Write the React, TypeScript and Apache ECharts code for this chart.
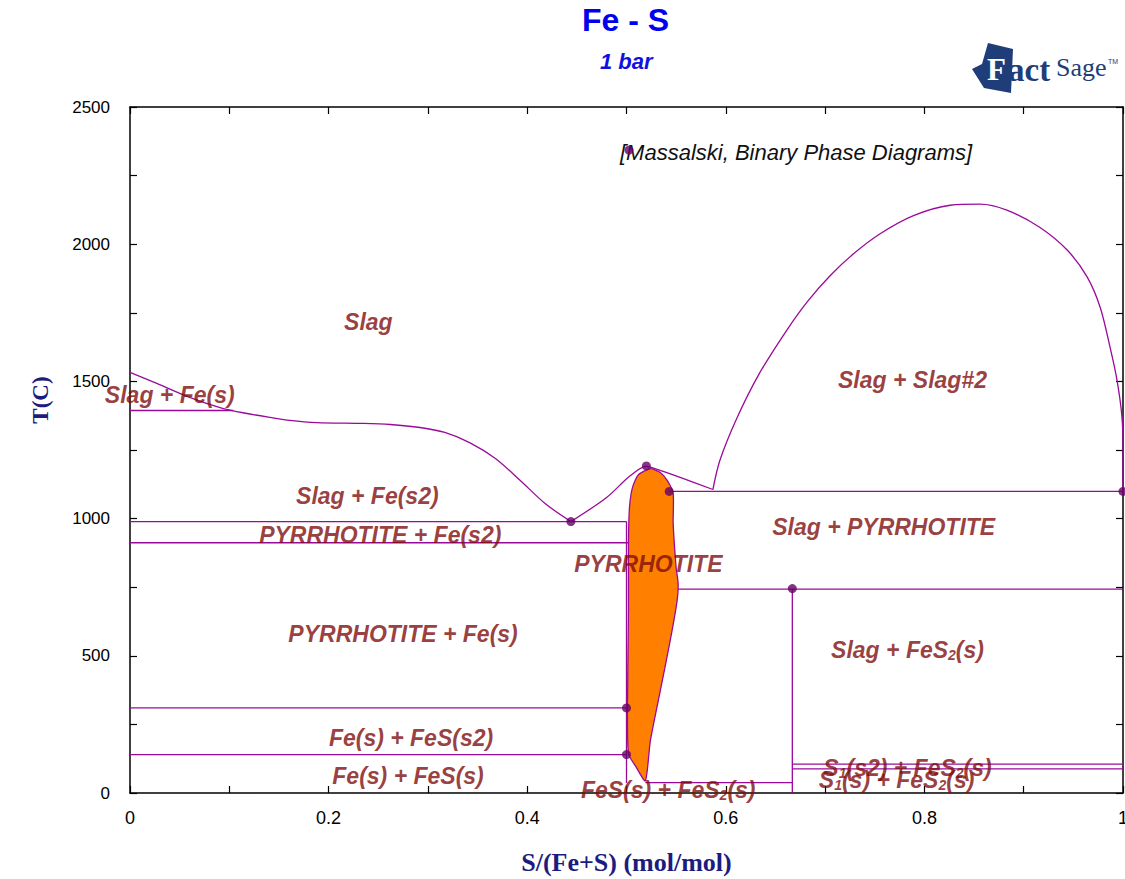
import React, { useEffect, useRef } from "react";
import * as echarts from "echarts";

// ---- data (x = S/(Fe+S) mol/mol, T in °C) ----
const liquidusFe = [
  [0, 1533], [0.027, 1493], [0.06, 1442], [0.094, 1401], [0.118, 1383], [0.141, 1369],
  [0.161, 1358], [0.188, 1350], [0.235, 1347], [0.262, 1343], [0.292, 1332], [0.317, 1314],
  [0.342, 1277], [0.368, 1219], [0.393, 1139], [0.418, 1055], [0.444, 989],
];
const liquidusFeS = [
  [0.444, 989], [0.48, 1077], [0.504, 1157], [0.52, 1190], [0.531, 1179], [0.554, 1150], [0.587, 1106],
];
const miscibilityGap = [
  [0.587, 1106], [0.594, 1212], [0.611, 1365], [0.634, 1530], [0.662, 1690], [0.682, 1790],
  [0.705, 1885], [0.728, 1963], [0.755, 2037], [0.789, 2104], [0.826, 2142], [0.856, 2146],
  [0.883, 2124], [0.916, 2062], [0.944, 1978], [0.964, 1880], [0.977, 1770], [0.987, 1624],
  [0.994, 1504], [0.999, 1369], [1, 1248], [1, 1099],
];
const pyrrhotite = [
  [0.524, 1182], [0.534, 1168], [0.541, 1139], [0.547, 1091], [0.547, 982], [0.55, 821],
  [0.552, 763], [0.551, 701], [0.544, 555], [0.534, 372], [0.524, 190], [0.519, 44],
  [0.509, 99], [0.502, 142], [0.501, 310], [0.502, 675], [0.502, 920], [0.503, 1040],
  [0.506, 1113], [0.512, 1160],
];
const deltaFeLine = [[0, 1394], [0.104, 1394]];
const eutecticLine = [[0, 989], [0.5, 989]];
const gammaAlphaLine = [[0, 912], [0.502, 912]];
const fes315Line = [[0, 310], [0.5, 310]];
const fes138Line = [[0, 140], [0.5, 140]];
const fesLeftEdge = [[0.5, 989], [0.5, 36]];
const monotecticLine = [[0.543, 1099], [1, 1099]];
const fes2DecompLine = [[0.552, 743], [1, 743]];
const fes2Vertical = [[0.667, 743], [0.667, 0]];
const lowPyrrhotiteLine = [[0.519, 38], [0.667, 38]];
const sulfurMeltLine = [[0.667, 105], [1, 105]];
const sulfurTransLine = [[0.667, 88], [1, 88]];
const invariantPoints = [
  [0.444, 989], [0.52, 1192], [0.543, 1099], [0.5, 310], [0.5, 140],
  [0.667, 745], [1, 1099], [0.5025, 2343],
];
const phaseLabels = [
  { text: "Slag", x: 0.24, t: 1716 },
  { text: "Slag + Fe(s)", x: 0.04, t: 1450 },
  { text: "Slag + Slag#2", x: 0.788, t: 1505 },
  { text: "Slag + Fe(s2)", x: 0.239, t: 1082 },
  { text: "PYRRHOTITE + Fe(s2)", x: 0.252, t: 940 },
  { text: "Slag + PYRRHOTITE", x: 0.759, t: 969 },
  { text: "PYRRHOTITE", x: 0.522, t: 835 },
  { text: "PYRRHOTITE + Fe(s)", x: 0.275, t: 579 },
  { text: "Slag + FeS{sub|2}(s)", x: 0.783, t: 521 },
  { text: "Fe(s) + FeS(s2)", x: 0.283, t: 200 },
  { text: "Fe(s) + FeS(s)", x: 0.28, t: 62 },
  { text: "FeS(s) + FeS{sub|2}(s)", x: 0.542, t: 11 },
  { text: "S{sub|1}(s2) + FeS{sub|2}(s)", x: 0.783, t: 91 },
  { text: "S{sub|1}(s) + FeS{sub|2}(s)", x: 0.772, t: 47 },
];
const xTickLabels = ["0", "0.2", "0.4", "0.6", "0.8", "1"];
const yTickLabels = ["0", "500", "1000", "1500", "2000", "2500"];

const LINE = "#9a0a9a";
const MARK = "#660066";
const LABEL = "#800d0d";
const LOGO = "#1f3d78";

export default function App() {
  const ref = useRef<HTMLDivElement>(null);
  useEffect(() => {
    if (!ref.current) return;
    const chart = echarts.init(ref.current, null, { renderer: "svg" });
    const curves = [liquidusFe, liquidusFeS, miscibilityGap];
    const straight = [
      deltaFeLine, eutecticLine, gammaAlphaLine, fes315Line, fes138Line, fesLeftEdge,
      monotecticLine, fes2DecompLine, fes2Vertical, lowPyrrhotiteLine, sulfurMeltLine, sulfurTransLine,
    ];
    const mk = (d: number[][], smooth: number) => ({
      type: "line",
      data: d,
      showSymbol: false,
      symbol: "none",
      smooth,
      lineStyle: { color: LINE, width: 1.3 },
      z: 3,
      clip: false,
    });
    const lineSeries = [...curves.map((d) => mk(d, 0.3)), ...straight.map((d) => mk(d, 0))];
    const axisCommon = () => ({
      axisLine: { show: true, onZero: false, lineStyle: { color: "#000", width: 1.5 } },
      axisTick: { show: true, inside: true, length: 7, lineStyle: { color: "#000", width: 1.2 } },
      splitLine: { show: false },
    });
    const xFmt = (v: number) => {
      const k = Math.round(v * 10);
      return k % 2 === 0 ? xTickLabels[k / 2] : "";
    };
    const yFmt = (v: number) => {
      const k = Math.round(v / 250);
      return k % 2 === 0 ? yTickLabels[k / 2] : "";
    };
    chart.setOption({
      animation: false,
      backgroundColor: "#fff",
      grid: { left: 130, right: 2, top: 107, bottom: 86, outerBoundsMode: "none", containLabel: false },
      xAxis: [
        {
          type: "value", min: 0, max: 1, interval: 0.1, position: "bottom",
          ...axisCommon(),
          axisLabel: { formatter: xFmt, color: "#000", fontSize: 18, fontFamily: "Liberation Sans, Arial", margin: 16 },
          name: "S/(Fe+S) (mol/mol)",
          nameLocation: "middle",
          nameGap: 56,
          nameTextStyle: { color: "#1c1c80", fontSize: 26, fontWeight: "bold", fontFamily: "Liberation Serif, Times New Roman, serif" },
        },
        {
          type: "value", min: 0, max: 1, interval: 0.1, position: "top",
          ...axisCommon(),
          axisLabel: { show: false },
        },
      ],
      yAxis: [
        {
          type: "value", min: 0, max: 2500, interval: 250, position: "left",
          ...axisCommon(),
          axisLabel: { formatter: yFmt, color: "#000", fontSize: 17, fontFamily: "Liberation Sans, Arial", margin: 20 },
        },
        {
          type: "value", min: 0, max: 2500, interval: 250, position: "right",
          ...axisCommon(),
          axisLabel: { show: false },
        },
      ],
      graphic: [
        { type: "text", left: 582, top: 4, style: { text: "Fe - S", fill: "#0000ee", font: "bold 32px 'Liberation Sans', Arial" } },
        { type: "text", left: 600, top: 50, style: { text: "1 bar", fill: "#1010e0", font: "italic bold 22px 'Liberation Sans', Arial" } },
        { type: "text", left: 620, top: 141, style: { text: "[Massalski, Binary Phase Diagrams]", fill: "#111", font: "italic 22px 'Liberation Sans', Arial" } },
        {
          type: "text", x: 40, y: 400, rotation: Math.PI / 2,
          style: { text: "T(C)", fill: "#1c1c80", font: "bold 23px 'Liberation Serif', serif", align: "center", verticalAlign: "middle" },
        },
        {
          type: "polygon",
          shape: { points: [[988, 43], [1013, 49], [1011, 93], [984, 88], [972, 69], [982, 64]] },
          style: { fill: LOGO },
        },
        { type: "text", left: 987, top: 54, style: { text: "F", fill: "#fff", font: "bold 31px 'Liberation Serif', serif" } },
        { type: "text", left: 1008, top: 53, style: { text: "act", fill: LOGO, font: "bold 33px 'Liberation Serif', serif" } },
        { type: "text", left: 1056, top: 54, style: { text: "Sage", fill: LOGO, font: "26px 'Liberation Serif', serif" } },
        { type: "text", left: 1108, top: 58, style: { text: "TM", fill: LOGO, font: "7px 'Liberation Sans', Arial" } },
      ],
      series: [
        {
          type: "custom",
          data: [pyrrhotite[0]],
          encode: { x: 0, y: 1 },
          z: 2,
          renderItem: (_params: any, api: any) => ({
            type: "polygon",
            shape: { points: pyrrhotite.map((p) => api.coord(p)), smooth: 0.2 },
            style: { fill: "#ff8000", stroke: LINE, lineWidth: 1.3 },
          }),
        },
        ...lineSeries,
        {
          type: "scatter",
          data: invariantPoints,
          symbol: "circle",
          symbolSize: 9,
          itemStyle: { color: MARK },
          z: 5,
          clip: false,
        },
        {
          type: "scatter",
          data: phaseLabels.map((l) => ({ value: [l.x, l.t], name: l.text })),
          symbolSize: 0,
          z: 6,
          clip: false,
          label: {
            show: true,
            position: "inside",
            formatter: (p: any) => p.name,
            color: LABEL,
            fontSize: 23,
            fontStyle: "italic",
            fontWeight: "bold",
            fontFamily: "Liberation Sans, Arial",
            rich: {
              sub: {
                color: LABEL, fontSize: 14, fontStyle: "italic", fontWeight: "bold",
                fontFamily: "Liberation Sans, Arial", padding: [10, 0, 0, 0],
              },
            },
          },
        },
      ],
    });
    return () => chart.dispose();
  }, []);
  return <div ref={ref} style={{ position: "absolute", left: 0, top: 0, width: 1125, height: 879 }} />;
}
